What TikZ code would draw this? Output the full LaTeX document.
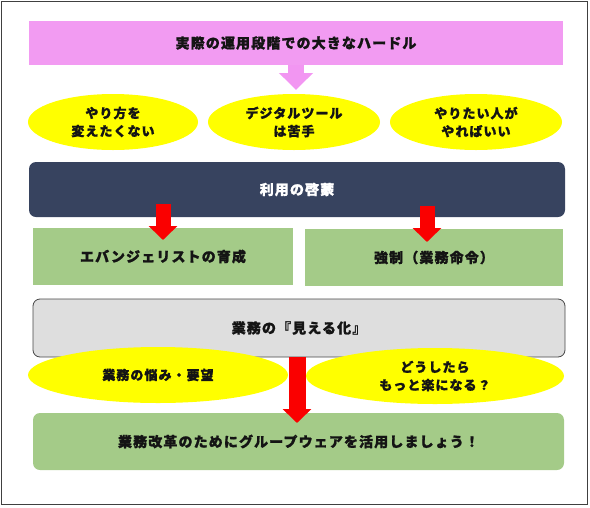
\documentclass[tikz,border=0pt]{standalone}
\usepackage{fontspec}
\usetikzlibrary{arrows.meta,shapes.geometric}
\newfontfamily\jp{Noto Sans CJK JP}[LetterSpace=8,BoldFeatures={FakeBold=1.2}]
\definecolor{pinkf}{RGB}{242,155,242}
\definecolor{pinkA}{RGB}{242,150,242}
\definecolor{navyf}{RGB}{55,67,95}
\definecolor{greenf}{RGB}{164,203,136}
\definecolor{grayf}{RGB}{222,222,222}
\definecolor{grayline}{RGB}{70,70,70}
\definecolor{yellowf}{RGB}{255,255,0}
\definecolor{redA}{RGB}{250,0,0}
\definecolor{txt}{RGB}{20,20,20}
\begin{document}
\begin{tikzpicture}[x=1pt,y=-1pt,
  frame/.style={draw=black!75,line width=0.8pt},
  boxbase/.style={inner sep=0pt,outer sep=0pt,align=center,text=txt,
    font=\jp\bfseries\fontsize{14}{18}\selectfont},
  pinkbox/.style={boxbase,fill=pinkf},
  navybox/.style={boxbase,fill=navyf,rounded corners=7pt,text=white},
  greenbox/.style={boxbase,fill=greenf},
  greenround/.style={greenbox,rounded corners=7pt},
  graybox/.style={boxbase,fill=grayf,draw=grayline,line width=0.8pt,rounded corners=7pt},
  oval/.style={ellipse,fill=yellowf,inner sep=0pt,outer sep=0pt,align=center,text=txt,
    font=\jp\bfseries\fontsize{13}{18}\selectfont},
  pinkarrow/.style={draw=pinkA,line width=16pt,-{Triangle[width=33pt,length=17pt,color=pinkA]}},
  redarrow/.style={draw=redA,line width=15pt,-{Triangle[width=28pt,length=14pt,color=redA]}}
]
\useasboundingbox (0,0) rectangle (590,507);
\draw[frame] (1.5,1.5) rectangle (587.5,504.5);

% top title
\node[pinkbox,minimum width=534pt,minimum height=44pt] (hurdle) at (296,43) {実際の運用段階での大きなハードル};
\coordinate (p2) at (296,90);
\draw[pinkarrow] (hurdle.south) -- (p2);

% top ellipses
\node[oval,minimum width=170pt,minimum height=56pt] (e1) at (113,122) {やり方を\\変えたくない};
\node[oval,minimum width=172pt,minimum height=56pt] (e2) at (294,122) {デジタルツール\\は苦手};
\node[oval,minimum width=172pt,minimum height=56pt] (e3) at (476,122) {やりたい人が\\やればいい};

% navy box
\node[navybox,minimum width=536pt,minimum height=55pt] (keimo) at (297,189.5) {利用の啓蒙};

% green boxes
\node[greenbox,minimum width=260pt,minimum height=57pt] (evang) at (163,256.5) {エバンジェリストの育成};
\node[greenbox,minimum width=258pt,minimum height=57pt] (force) at (434,257.5) {強制（業務命令）};

\coordinate (r1s) at (163,204);
\coordinate (r1e) at (163,240);
\coordinate (r2s) at (427,206);
\coordinate (r2e) at (427,242);
\draw[redarrow] (r1s) -- (r1e);
\draw[redarrow] (r2s) -- (r2e);

% gray box
\node[graybox,minimum width=532pt,minimum height=58pt] (mieru) at (299,328) {業務の『見える化』};

% bottom ellipses
\node[oval,minimum width=260pt,minimum height=56pt] (e4) at (158,375) {業務の悩み・要望};
\node[oval,minimum width=258pt,minimum height=56pt] (e5) at (435,376) {どうしたら\\もっと楽になる？};

% bottom green
\node[greenround,minimum width=531pt,minimum height=57pt] (groupware) at (298.5,441.5) {業務改革のためにグループウェアを活用しましょう！};

\coordinate (r3e) at (297,423);
\draw[redarrow,line width=17pt] (r3e |- mieru.south) -- (r3e);
\end{tikzpicture}
\end{document}
